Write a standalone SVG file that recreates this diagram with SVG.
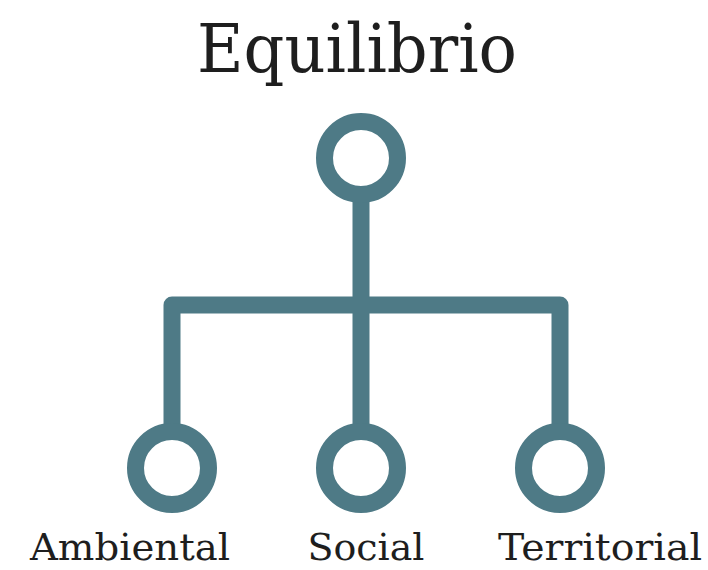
<svg xmlns="http://www.w3.org/2000/svg" width="708" height="570" viewBox="0 0 708 570">
<style>
.ring{fill:none;stroke:#4e7a86;stroke-width:17}
.conn{fill:none;stroke:#4e7a86;stroke-width:17;stroke-linejoin:round}
.title{font-family:"DejaVu Serif","Liberation Serif",serif;font-size:68px;fill:#1e1e1e}
.label{font-family:"DejaVu Serif","Liberation Serif",serif;font-size:38px;fill:#1e1e1e}
</style>
<rect width="708" height="570" fill="#ffffff"/>
<g id="connectors">
<path class="conn" d="M361 202 V305"/>
<path class="conn" d="M172 424 V305 H560 V424"/>
<path class="conn" d="M361 305 V424"/>
</g>
<g id="root">
<text class="title" x="357" y="72" text-anchor="middle" textLength="320" lengthAdjust="spacingAndGlyphs">Equilibrio</text>
<circle class="ring" cx="361" cy="158" r="36.5"/>
</g>
<g id="ambiental">
<circle class="ring" cx="172" cy="468" r="36.5"/>
<text class="label" x="130" y="560" text-anchor="middle" textLength="200" lengthAdjust="spacingAndGlyphs">Ambiental</text>
</g>
<g id="social">
<circle class="ring" cx="361" cy="468" r="36.5"/>
<text class="label" x="366" y="560" text-anchor="middle" textLength="117" lengthAdjust="spacingAndGlyphs">Social</text>
</g>
<g id="territorial">
<circle class="ring" cx="560" cy="468" r="36.5"/>
<text class="label" x="600" y="560" text-anchor="middle" textLength="204" lengthAdjust="spacingAndGlyphs">Territorial</text>
</g>
</svg>
